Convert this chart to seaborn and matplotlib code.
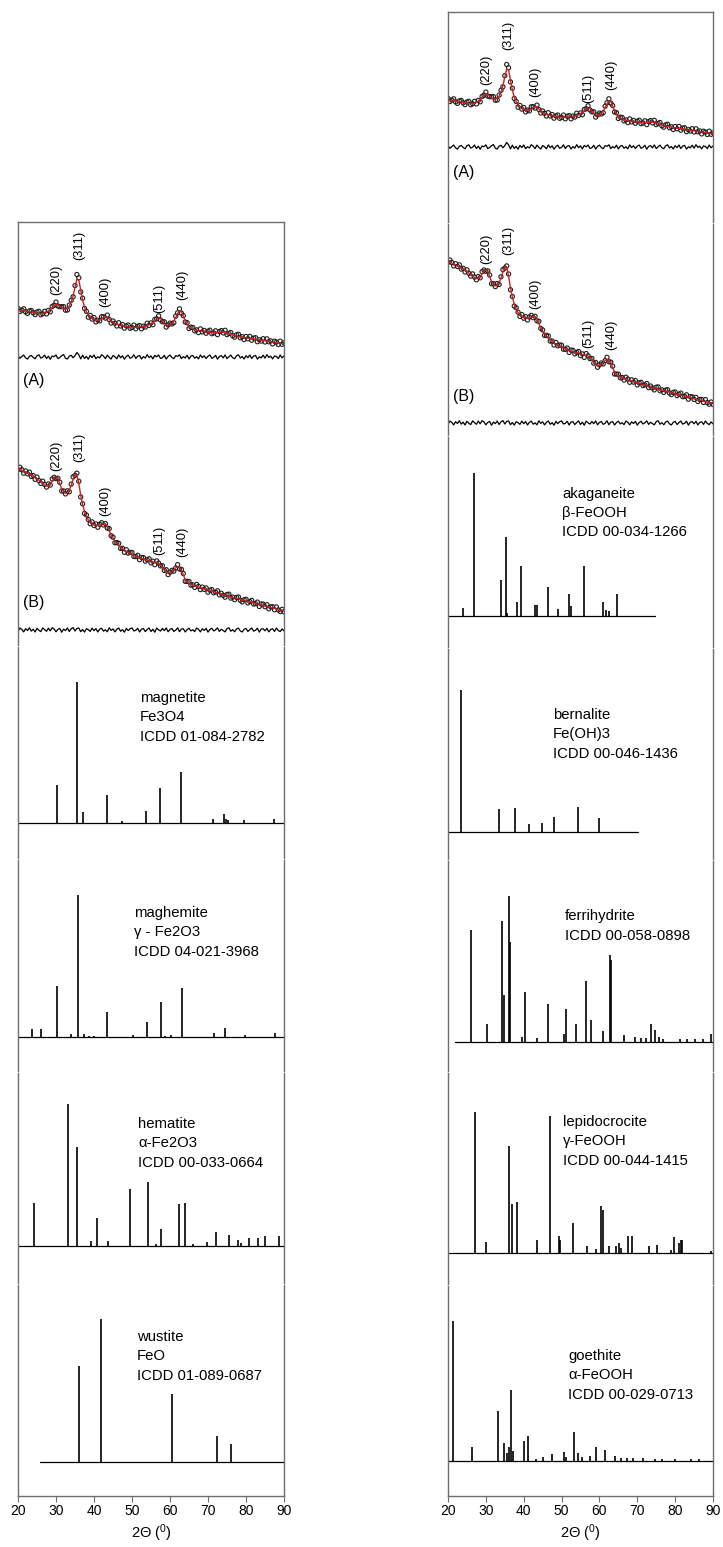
import numpy as np
import matplotlib
matplotlib.use("Agg")
import matplotlib.pyplot as plt
import seaborn as sns

# 01. MEASURED PATTERNS (A) AND (B): OBSERVED POINTS AND FITTED CURVE
two_theta = np.arange(20, 90.01, 0.5)

fit_A = [40, 39.8, 39.5, 39.2, 39, 38.7, 38.4, 38, 37.6, 37.2,
         36.8, 36.5, 36.3, 36.4, 36.8, 37.6, 38.8, 40.5, 42.5, 44.5,
         45.8, 45.5, 43.8, 42, 41, 41, 42, 44, 48, 54,
         63, 71, 70, 60, 50, 43, 38, 35, 33, 31.5,
         30.5, 29.8, 29.6, 30, 31, 32.5, 33.5, 33, 31, 29,
         27.5, 26.5, 25.8, 25.2, 24.7, 24.3, 24, 23.6, 23.2, 23,
         22.8, 22.7, 22.7, 22.8, 23, 23.2, 23.5, 24, 24.5, 25.2,
         26, 27.2, 29, 31, 32.2, 31.5, 29, 26.5, 25, 24.5,
         25, 26.5, 29, 32.5, 36.5, 39, 38.5, 34, 29, 25.5,
         23.5, 22, 21, 20.3, 19.8, 19.3, 19, 18.7, 18.4, 18.2,
         18, 17.8, 17.6, 17.5, 17.5, 17.6, 17.8, 18, 18, 17.6,
         17, 16.3, 15.6, 15, 14.5, 14, 13.6, 13.2, 12.8, 12.5,
         12.2, 11.9, 11.6, 11.3, 11, 10.7, 10.4, 10.1, 9.8, 9.5,
         9.2, 8.9, 8.6, 8.3, 8, 7.7, 7.4, 7.1, 6.8, 6.5,
         6.2]

obs_A = [41.6, 38.5, 39.9, 41.2, 38.1, 36.6, 39.1, 39.5, 37.2, 35.4,
         38.0, 38.7, 35.2, 36.2, 38.7, 36.1, 39.6, 38.2, 43.5, 44.8,
         47.9, 43.9, 43.3, 43.3, 43.4, 39.8, 40.0, 44.9, 49.7, 53.2,
         64.4, 75.5, 72.2, 58.1, 51.8, 41.6, 38.6, 32.8, 34.6, 30.9,
         32.5, 28.1, 29.9, 29.1, 33.3, 33.3, 31.9, 34.9, 30.6, 27.0,
         29.0, 26.7, 24.0, 27.3, 24.0, 25.5, 21.8, 24.1, 25.0, 21.7,
         22.5, 24.9, 21.2, 23.7, 24.4, 21.2, 23.9, 22.9, 26.8, 24.6,
         27.1, 25.3, 30.6, 31.2, 34.2, 30.1, 28.2, 28.2, 22.9, 25.1,
         26.9, 26.0, 27.3, 33.8, 37.2, 41.2, 36.9, 34.4, 28.0, 27.3,
         21.5, 22.9, 22.5, 19.1, 20.1, 17.4, 21.1, 18.1, 19.6, 16.7,
         18.8, 19.8, 16.3, 17.1, 19.2, 15.4, 18.4, 19.4, 17.1, 19.7,
         15.4, 16.6, 17.5, 14.2, 12.8, 15.2, 15.8, 12.2, 13.3, 10.5,
         13.5, 11.2, 13.6, 9.8, 11.9, 12.3, 8.3, 10.3, 8.9, 11.3,
         8.0, 11.2, 8.2, 9.1, 6.1, 8.8, 7.9, 5.5, 8.8, 5.7,
         7.2]

fit_B = [152, 151, 150, 149, 148, 147, 146, 145, 144, 143,
         141.5, 140, 138.5, 137, 135.5, 134.5, 134.5, 136, 139, 142,
         143.5, 141.5, 136.5, 131.5, 128.5, 127, 127.5, 130, 135, 141,
         146, 145.5, 137, 125, 116, 109, 104, 100.5, 98, 96.5,
         95.5, 95, 95, 95.2, 95.8, 96.5, 96.5, 94, 89.5, 85,
         82, 79.5, 77, 75, 73.2, 71.6, 70.2, 69, 67.8, 66.7,
         65.7, 64.8, 64, 63.3, 62.6, 62, 61.3, 60.7, 60.1, 59.5,
         58.9, 58.3, 57.8, 57.5, 57, 55.5, 53, 50.5, 48.5, 47.5,
         47.5, 48.5, 50.5, 52.5, 53.5, 53, 50, 45.5, 41, 38.5,
         37, 36, 35.2, 34.5, 33.8, 33.2, 32.6, 32, 31.4, 30.8,
         30.2, 29.6, 29, 28.5, 28, 27.4, 26.8, 26.2, 25.6, 25,
         24.4, 23.9, 23.4, 22.9, 22.4, 21.9, 21.4, 20.9, 20.4, 19.9,
         19.4, 18.9, 18.4, 17.9, 17.4, 16.9, 16.4, 15.9, 15.4, 14.9,
         14.4, 13.9, 13.4, 12.9, 12.4, 11.9, 11.4, 10.9, 10.4, 9.9,
         9.4]

obs_B = [150.6, 153.0, 150.6, 147.1, 149.3, 146.5, 148.2, 143.9, 144.8, 141.0,
         143.2, 139.7, 136.9, 139.1, 135.9, 133.2, 136.4, 135.2, 141.3, 143.0,
         141.7, 142.1, 138.0, 129.3, 129.4, 126.4, 129.5, 128.5, 136.2, 143.4,
         145.0, 147.1, 139.0, 123.3, 116.5, 106.9, 105.3, 100.8, 96.6, 98.4,
         94.8, 96.4, 93.0, 96.0, 97.6, 95.3, 96.7, 92.2, 91.7, 84.6,
         83.1, 77.6, 77.7, 77.0, 71.9, 72.0, 68.0, 70.6, 67.2, 68.0,
         67.8, 63.8, 63.7, 65.0, 60.6, 62.9, 62.7, 59.1, 60.6, 61.5,
         57.4, 59.1, 55.6, 59.4, 57.2, 54.4, 54.6, 49.8, 50.6, 45.7,
         48.1, 50.0, 49.1, 52.3, 55.7, 51.3, 50.9, 46.8, 39.0, 38.9,
         38.8, 35.1, 35.5, 32.9, 35.8, 33.9, 30.7, 33.2, 30.9, 32.4,
         28.1, 30.1, 30.7, 27.5, 28.2, 29.5, 25.4, 27.0, 25.0, 23.1,
         25.8, 26.1, 22.2, 23.2, 20.6, 22.9, 23.3, 20.0, 18.4, 20.6,
         21.0, 17.4, 18.8, 19.9, 16.3, 16.6, 18.2, 13.8, 16.3, 16.2,
         13.6, 15.6, 11.5, 13.5, 13.6, 10.5, 13.4, 10.4, 8.8, 11.0,
         8.5]

hkl_labels = ["(220)", "(311)", "(400)", "(511)", "(440)"]
hkl_2theta = [30.0, 36.0, 43.0, 57.1, 63.2]

# 02. REFERENCE CARDS (ICDD): PEAK POSITION AND RELATIVE HEIGHT
magnetite_pos = [30.2, 35.6, 37.2, 43.3, 47.3, 53.7, 57.3, 62.8, 71.3, 74.3, 74.7, 75.3, 79.4, 87.3]
magnetite_int = [37.7, 141, 11, 28.3, 2, 11.7, 35, 50.7, 3.7, 9.3, 4, 3, 2.7, 3.7]

maghemite_pos = [23.8, 26.1, 30.2, 33.9, 35.8, 37.3, 38.7, 40.1, 43.3, 50.3, 53.9, 57.5,
                 58.8, 60.2, 63.1, 71.6, 74.6, 79.7, 87.6]
maghemite_int = [8.3, 8, 51.3, 3, 142, 3, 1.5, 1.5, 25, 2, 14.7, 35, 1.5, 2, 49, 4, 9, 2, 4]

hematite_pos = [24.2, 33.1, 35.6, 39.2, 40.8, 43.6, 49.5, 54.1, 56.2, 57.6, 62.4, 64.0,
                66.1, 69.7, 72.0, 75.4, 77.8, 78.8, 80.9, 83.1, 85.0, 88.7]
hematite_int = [42.7, 141.7, 98.7, 5, 28, 5, 57, 63.7, 2, 17.3, 42.3, 43,
                2, 4.3, 13.7, 11.3, 6, 3, 7.7, 7.7, 10, 10]

wustite_pos = [36.0, 41.8, 60.5, 72.4, 76.1]
wustite_int = [96.3, 143, 68, 25.7, 18.3]

akaganeite_pos = [23.9, 26.8, 34.0, 35.2, 35.7, 38.1, 39.3, 42.9, 43.5, 46.5, 49.0, 52.0,
                  52.6, 55.9, 61.0, 61.7, 62.4, 64.6]
akaganeite_int = [7.3, 142.3, 35.7, 79, 3, 13.3, 49.7, 10.7, 10.7, 29, 6.3, 21.7,
                  10, 49.7, 13.3, 6, 5, 21.3]

bernalite_pos = [23.4, 33.5, 37.6, 41.4, 44.9, 48.1, 54.3, 60.0]
bernalite_int = [141.7, 22.3, 23.3, 7.3, 9, 14.3, 24.7, 13.3]

ferrihydrite_pos = [26.2, 30.2, 34.2, 34.9, 36.2, 36.5, 39.5, 40.3, 43.4, 46.3, 50.6, 51.2,
                    53.8, 56.4, 57.7, 60.9, 62.7, 63.0, 66.5, 69.4, 71.0, 72.3, 73.6, 74.8,
                    75.7, 76.8, 81.4, 83.1, 85.2, 87.4, 89.4]
ferrihydrite_int = [112.3, 18, 121.3, 47.3, 146.3, 100, 5, 50, 4, 38.3, 8, 33,
                    18.3, 61.3, 22.3, 11.3, 87.3, 82, 7, 5, 4, 4, 18.3, 12,
                    5, 3, 3, 3, 3, 3, 8.3]

lepidocrocite_pos = [27.0, 30.0, 36.2, 37.0, 38.1, 43.4, 46.9, 49.2, 49.5, 52.9, 56.8, 59.1,
                     60.4, 60.9, 62.5, 64.3, 65.1, 65.8, 67.5, 68.5, 73.2, 75.3, 78.8, 79.8,
                     80.9, 81.5, 81.9, 89.6]
lepidocrocite_int = [141.7, 11.7, 107.7, 49, 51.7, 13.3, 137.7, 17.3, 13, 30, 7, 4,
                     47.3, 43.3, 7, 7, 10, 5, 17.7, 17.7, 7, 8, 3, 16.7,
                     10, 13, 13, 2]

goethite_pos = [21.2, 26.3, 33.3, 34.7, 35.5, 36.1, 36.7, 37.2, 40.0, 41.2, 43.2, 45.2,
                47.5, 50.6, 51.2, 53.3, 54.3, 55.3, 57.5, 59.1, 61.4, 64.0, 65.7, 67.3,
                68.9, 71.6, 74.8, 76.6, 79.9, 84.2, 86.2]
goethite_int = [140, 14, 50, 18, 8, 14, 71, 10, 20, 25.5, 2, 4,
                7, 9, 4, 28.6, 8, 4, 5, 14.3, 11, 5, 3, 3,
                3, 3, 2, 2, 2, 2, 2]

# 2theta range covered by each card
wustite_span = [25.8, 90]
akaganeite_span = [20, 74.7]
bernalite_span = [20, 70.1]
ferrihydrite_span = [21.8, 90]
full_span = [20, 90]

ticks_2theta = [20, 30, 40, 50, 60, 70, 80, 90]

# 03. STYLE
sns.set_theme(style="white")
plt.rcParams["font.family"] = ["Liberation Sans", "DejaVu Sans"]
plt.rcParams["mathtext.fontset"] = "custom"
plt.rcParams["mathtext.rm"] = "Liberation Sans"
plt.rcParams["mathtext.it"] = "Liberation Sans:italic"
plt.rcParams["text.color"] = "black"
plt.rcParams["axes.labelcolor"] = "black"

FRAME = "#6e6e6e"
W, H = 723, 1547
fig = plt.figure(figsize=(W / 100, H / 100), dpi=100)
fig.patch.set_facecolor("white")


def add_panel(x0, width, top, bottom, top_spine=False, bottom_axis=False):
    ax = fig.add_axes([x0 / W, 1 - (bottom - 1) / H, width / W, (bottom - top - 2) / H])
    ax.set_xlim(20, 90)
    ax.set_ylim(1, bottom - top - 1)
    ax.set_yticks([])
    ax.set_facecolor("none")
    for side in ["left", "right", "top", "bottom"]:
        ax.spines[side].set_color(FRAME)
        ax.spines[side].set_linewidth(1.0)
    ax.spines["top"].set_visible(top_spine)
    ax.spines["bottom"].set_visible(bottom_axis)
    if bottom_axis:
        ax.set_xticks(ticks_2theta)
        ax.tick_params(axis="x", bottom=True, direction="out", length=4, width=0.8,
                       color=FRAME, labelsize=10, pad=2, labelcolor="black")
        ax.set_xlabel("2Θ ($^{0}$)", fontsize=10.5, labelpad=3)
    else:
        ax.set_xticks([])
    return ax


def draw_pattern(ax, obs, fit, offset, res_offset, label_y):
    obs = np.array(obs)
    fit = np.array(fit)
    sns.scatterplot(x=two_theta, y=obs + offset, ax=ax, marker="o", s=9,
                    facecolors="none", edgecolor="#1e1e1e", linewidth=0.8,
                    legend=False, zorder=2)
    sns.lineplot(x=two_theta, y=fit + offset, ax=ax, color="#d01f1f", linewidth=1.0, zorder=3)
    sns.lineplot(x=two_theta, y=(obs - fit) + res_offset, ax=ax, color="black", linewidth=0.9)
    for lab, xp, yl in zip(hkl_labels, hkl_2theta, label_y):
        ax.text(xp, offset + yl, lab, rotation=90, ha="center", va="bottom", fontsize=9.3)


def draw_card(ax, pos, inten, baseline, span, lines, tx, ty):
    sns.lineplot(x=span, y=[baseline, baseline], ax=ax, color="black", linewidth=0.9)
    ax.vlines(pos, baseline, baseline + np.array(inten), color="black", linewidth=1.2)
    for i, line in enumerate(lines):
        ax.text(tx, ty - i * 19.3, line, fontsize=10.7, ha="left", va="baseline")


labels_A = [55, 90, 43, 37, 50]
labels_B = [149, 158, 104, 65, 63]

# 04. LEFT COLUMN
LX, LW = 18, 266
left_edges = [221, 646.3, 859, 1071.7, 1284.3, 1497]

ax = add_panel(LX, LW, left_edges[0], left_edges[1], top_spine=True)
draw_pattern(ax, obs_A, fit_A, 296.3, 289.3, labels_A)
draw_pattern(ax, obs_B, fit_B, 26, 16.3, labels_B)
ax.text(21.3, 266, "(A)", fontsize=11.5, ha="left", va="center")
ax.text(21.3, 44, "(B)", fontsize=11.5, ha="left", va="center")

ax = add_panel(LX, LW, left_edges[1], left_edges[2])
draw_card(ax, magnetite_pos, magnetite_int, 36, full_span,
          ["magnetite", "Fe3O4", "ICDD 01-084-2782"], 52.1, 157)

ax = add_panel(LX, LW, left_edges[2], left_edges[3])
draw_card(ax, maghemite_pos, maghemite_int, 34.7, full_span,
          ["maghemite", "γ - Fe2O3", "ICDD 04-021-3968"], 50.5, 154.7)

ax = add_panel(LX, LW, left_edges[3], left_edges[4])
draw_card(ax, hematite_pos, hematite_int, 38.3, full_span,
          ["hematite", "α-Fe2O3", "ICDD 00-033-0664"], 51.6, 156.3)

ax = add_panel(LX, LW, left_edges[4], left_edges[5], bottom_axis=True)
draw_card(ax, wustite_pos, wustite_int, 35, wustite_span,
          ["wustite", "FeO", "ICDD 01-089-0687"], 51.3, 156)

# 05. RIGHT COLUMN
RX, RW = 448, 265
right_edges = [11, 223.3, 435.6, 647.9, 860.1, 1072.4, 1284.7, 1497]

ax = add_panel(RX, RW, right_edges[0], right_edges[1], top_spine=True)
draw_pattern(ax, obs_A, fit_A, 83.3, 76.3, labels_A)
ax.text(21.3, 51, "(A)", fontsize=11.5, ha="left", va="center")

ax = add_panel(RX, RW, right_edges[1], right_edges[2])
draw_pattern(ax, obs_B, fit_B, 22.6, 12.6, labels_B)
ax.text(21.3, 38.6, "(B)", fontsize=11.5, ha="left", va="center")

ax = add_panel(RX, RW, right_edges[2], right_edges[3])
draw_card(ax, akaganeite_pos, akaganeite_int, 32.2, akaganeite_span,
          ["akaganeite", "β-FeOOH", "ICDD 00-034-1266"], 50.1, 150)

ax = add_panel(RX, RW, right_edges[3], right_edges[4])
draw_card(ax, bernalite_pos, bernalite_int, 28.4, bernalite_span,
          ["bernalite", "Fe(OH)3", "ICDD 00-046-1436"], 47.7, 141)

ax = add_panel(RX, RW, right_edges[4], right_edges[5])
draw_card(ax, ferrihydrite_pos, ferrihydrite_int, 30.1, ferrihydrite_span,
          ["ferrihydrite", "ICDD 00-058-0898"], 50.9, 152)

ax = add_panel(RX, RW, right_edges[5], right_edges[6])
draw_card(ax, lepidocrocite_pos, lepidocrocite_int, 31.4, full_span,
          ["lepidocrocite", "γ-FeOOH", "ICDD 00-044-1415"], 50.4, 158.7)

ax = add_panel(RX, RW, right_edges[6], right_edges[7], bottom_axis=True)
draw_card(ax, goethite_pos, goethite_int, 36, full_span,
          ["goethite", "α-FeOOH", "ICDD 00-029-0713"], 51.7, 137)

fig.savefig("out.png", dpi=100)
